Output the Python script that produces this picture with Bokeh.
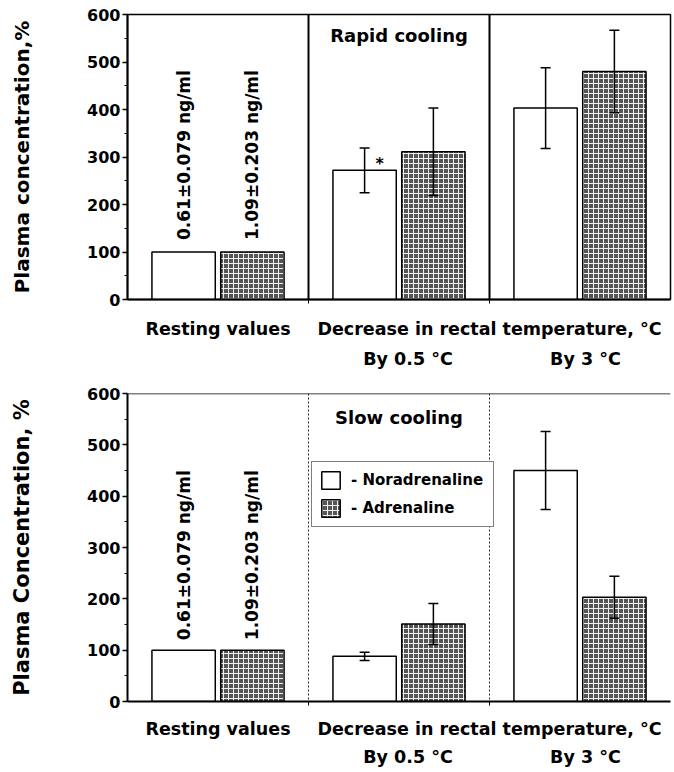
import math
from bokeh.plotting import figure
from bokeh.models import (Range1d, FixedTicker, SingleIntervalTicker, LinearAxis, Span,
                          Whisker, ColumnDataSource, Legend, LegendItem, TeeHead)
from bokeh.layouts import column
from bokeh.core.properties import value
from bokeh.embed import file_html
from bokeh.resources import INLINE

# ---------------- data ----------------
groups = ["Resting values", "By 0.5 °C", "By 3 °C"]
group_main_label = "Decrease in rectal temperature, °C"
hormones = ["Noradrenaline", "Adrenaline"]

rapid_nor = [100, 272, 403]
rapid_nor_err = [0, 47, 85]
rapid_adr = [100, 311, 480]
rapid_adr_err = [0, 92, 87]

slow_nor = [100, 88, 450]
slow_nor_err = [0, 8, 76]
slow_adr = [100, 151, 203]
slow_adr_err = [0, 40, 41]

resting_text = ["0.61±0.079 ng/ml", "1.09±0.203 ng/ml"]
y_ticks = [0, 100, 200, 300, 400, 500, 600]

FONT = "DejaVu Sans"
YMAX = y_ticks[-1]
NOR_OFF, ADR_OFF, BAR_W = 0.31, 0.69, 0.35
ADR_STYLE = dict(fill_color="#555555", hatch_pattern="cross", hatch_color="#f0f0f0",
                 hatch_scale=5, hatch_weight=1)


def panel(title, nor, nor_err, adr, adr_err, ylabel, ylabel_size, height, b_top, b_bottom,
          b_left, solid, ax1_standoff, ax2_standoff, title_off, text_off, star,
          legend_loc=None, ylabel_standoff=50):
    p = figure(width=672, height=height, output_backend="svg", toolbar_location=None,
               x_range=Range1d(0, 3), y_range=Range1d(0, YMAX),
               min_border_left=b_left, min_border_right=2, min_border_top=b_top,
               min_border_bottom=b_bottom, background_fill_color="white",
               border_fill_color="white")
    p.grid.visible = False
    if solid:
        p.outline_line_color = "black"
        p.outline_line_width = 1.5
    else:
        p.outline_line_color = None
        p.add_layout(Span(location=YMAX, dimension="width", line_color="black", line_width=1.5))

    # y axis
    ya = p.yaxis[0]
    ya.ticker = SingleIntervalTicker(interval=100, num_minor_ticks=2)
    ya.axis_label = ylabel
    ya.axis_label_text_font = FONT
    ya.axis_label_text_font_style = "bold"
    ya.axis_label_text_font_size = ylabel_size
    ya.axis_label_text_color = "black"
    ya.axis_label_standoff = ylabel_standoff
    ya.major_label_text_font = FONT
    ya.major_label_text_font_style = "bold"
    ya.major_label_text_font_size = "16px"
    ya.major_label_text_color = "black"
    ya.major_label_standoff = 2
    ya.axis_line_width = 2
    ya.major_tick_line_width = 1.5
    ya.major_tick_out = 5
    ya.major_tick_in = 0
    ya.minor_tick_out = 3
    ya.minor_tick_in = 0

    # x axis 1 (group labels)
    xa = p.xaxis[0]
    xa.ticker = FixedTicker(ticks=[0.5, 2.0], minor_ticks=[1, 2])
    xa.major_label_overrides = {0.5: groups[0], 2.0: group_main_label}
    xa.major_tick_line_color = None
    xa.major_tick_out = 4
    xa.major_tick_in = 0
    xa.minor_tick_out = 4
    xa.minor_tick_in = 0
    xa.axis_line_width = 2
    xa.major_label_text_font = FONT
    xa.major_label_text_font_style = "bold"
    xa.major_label_text_font_size = "17.5px"
    xa.major_label_text_color = "black"
    xa.major_label_standoff = ax1_standoff

    # x axis 2 (sub-group labels)
    xb = LinearAxis(ticker=FixedTicker(ticks=[1.55, 2.53]),
                    major_label_overrides={1.55: groups[1], 2.53: groups[2]})
    xb.axis_line_color = None
    xb.major_tick_line_color = None
    xb.minor_tick_line_color = None
    xb.major_tick_out = 0
    xb.major_tick_in = 0
    xb.minor_tick_out = 0
    xb.minor_tick_in = 0
    xb.major_label_text_font = FONT
    xb.major_label_text_font_style = "bold"
    xb.major_label_text_font_size = "17.5px"
    xb.major_label_text_color = "black"
    xb.major_label_standoff = ax2_standoff
    p.add_layout(xb, "below")

    # dividers
    for loc in (1, 2):
        if solid:
            p.add_layout(Span(location=loc, dimension="height", line_color="black", line_width=2))
        else:
            p.add_layout(Span(location=loc, dimension="height", line_color="#222222",
                              line_width=1, line_dash="2 2"))

    nor_x = [i + NOR_OFF for i in range(len(groups))]
    adr_x = [i + ADR_OFF for i in range(len(groups))]

    r_nor = p.vbar(x=nor_x, top=nor, width=BAR_W, fill_color="white",
                   line_color="black", line_width=1.5)
    r_adr = p.vbar(x=adr_x, top=adr, width=BAR_W, line_color="black", line_width=1.5,
                   **ADR_STYLE)

    # error bars
    ex, up, lo = [], [], []
    for xs, vals, errs in ((nor_x, nor, nor_err), (adr_x, adr, adr_err)):
        for x, v, e in zip(xs, vals, errs):
            if e > 0:
                ex.append(x); up.append(v + e); lo.append(v - e)
    src = ColumnDataSource(dict(x=ex, upper=up, lower=lo))
    p.add_layout(Whisker(base="x", upper="upper", lower="lower", source=src,
                         dimension="height", line_width=1.5, line_color="black",
                         level="overlay",
                         upper_head=TeeHead(size=10, line_width=1.5, line_color="black"),
                         lower_head=TeeHead(size=10, line_width=1.5, line_color="black")))

    # resting values text
    p.text(x=[nor_x[0], adr_x[0]], y=[nor[0], adr[0]], text=resting_text,
           angle=math.pi / 2, text_align="left", text_baseline="middle",
           y_offset=-text_off, text_font=value(FONT), text_font_style="bold",
           text_font_size="17px", text_color="black")

    # panel title
    p.text(x=[1.5], y=[YMAX], text=[title], text_align="center", text_baseline="middle",
           y_offset=title_off, text_font=value(FONT), text_font_style="bold",
           text_font_size="18px", text_color="black")

    if star:
        p.text(x=[nor_x[1]], y=[nor[1]], text=["*"], text_align="center",
               text_baseline="alphabetic", x_offset=15, y_offset=-7, text_font=value(FONT),
               text_font_style="bold", text_font_size="16px", text_color="black")

    if legend_loc is not None:
        leg = Legend(items=[LegendItem(label="- " + hormones[0], renderers=[r_nor]),
                            LegendItem(label="- " + hormones[1], renderers=[r_adr])],
                     location=legend_loc, glyph_width=23, glyph_height=22, label_height=22,
                     label_standoff=9, spacing=6, padding=7, margin=0, label_width=135,
                     border_line_color="black", border_line_width=1,
                     background_fill_color="white", background_fill_alpha=1,
                     label_text_font=FONT, label_text_font_style="bold",
                     label_text_font_size="15px", label_text_color="black")
        p.add_layout(leg, "center")
    return p


p1 = panel("Rapid cooling", rapid_nor, rapid_nor_err, rapid_adr, rapid_adr_err,
           "Plasma concentration,%", "20px", height=380, b_top=14, b_bottom=81, b_left=125,
           solid=True, ax1_standoff=15, ax2_standoff=7, title_off=21, text_off=12,
           star=True, ylabel_standoff=50)
p2 = panel("Slow cooling", slow_nor, slow_nor_err, slow_adr, slow_adr_err,
           "Plasma Concentration, %", "21px", height=389, b_top=13, b_bottom=66, b_left=127,
           solid=False, ax1_standoff=13, ax2_standoff=5, title_off=24, text_off=10,
           star=False, legend_loc=(184, 174), ylabel_standoff=50)

layout = column(p1, p2)
open("out.html", "w").write(file_html(layout, INLINE))
